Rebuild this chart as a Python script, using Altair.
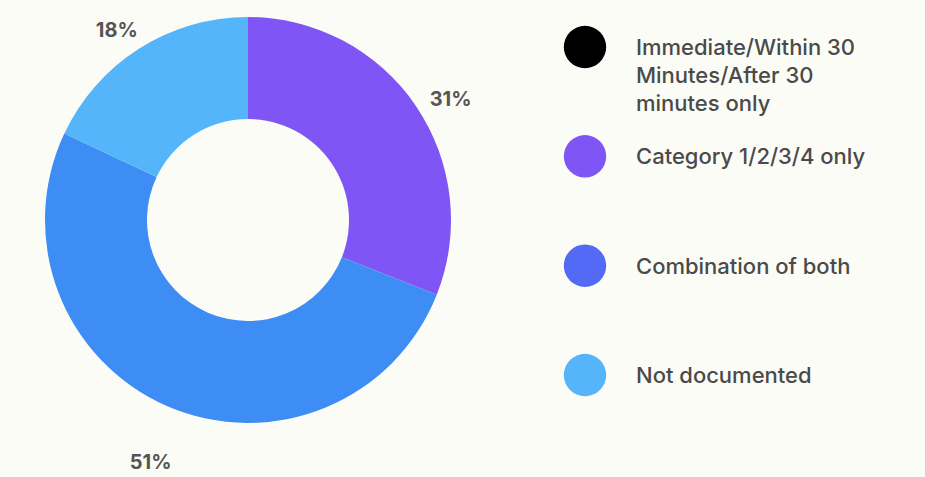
import altair as alt
import pandas as pd

# Donut slices (clockwise from 12 o'clock)
pie_categories = ["Category 1/2/3/4 only", "Combination of both", "Not documented"]
pie_values = [31, 51, 18]
pie_labels = ["31%", "51%", "18%"]
pie_colors = ["#8055f6", "#3e8df5", "#55b5fa"]

# Legend entries
legend_categories = [
    "Immediate/Within 30\nMinutes/After 30\nminutes only",
    "Category 1/2/3/4 only",
    "Combination of both",
    "Not documented",
]
legend_colors = ["#000000", "#7f55f6", "#5469f5", "#56b5fa"]

pie_df = pd.DataFrame({
    "category": pie_categories,
    "value": pie_values,
    "label": pie_labels,
    "idx": list(range(len(pie_categories))),
})
legend_df = pd.DataFrame({
    "category": legend_categories,
    "idx": list(range(len(legend_categories))),
})

BG = "#fcfcf6"
CX, CY = 248, 220

base = alt.Chart(pie_df).encode(
    theta=alt.Theta("value:Q", stack=True),
    order=alt.Order("idx:O"),
)

arcs = base.mark_arc(outerRadius=203, innerRadius=101, x=CX, y=CY).encode(
    color=alt.Color("category:N",
                    scale=alt.Scale(domain=pie_categories, range=pie_colors),
                    legend=None),
)

labels = base.mark_text(radius=245, x=CX, y=CY, dy=18, font="Inter", fontSize=20,
                        fontWeight="bold", color="#555555").encode(
    text="label:N",
)

ypos = alt.Y("idx:O", axis=None,
             scale=alt.Scale(type="point", range=[47, 375], padding=0))

leg_dots = alt.Chart(legend_df).mark_point(
    shape="circle", filled=True, size=1800, opacity=1, x=585
).encode(
    y=ypos,
    color=alt.Color("category:N",
                    scale=alt.Scale(domain=legend_categories, range=legend_colors),
                    legend=None),
)

leg_text = alt.Chart(legend_df).mark_text(
    x=636, align="left", baseline="alphabetic", dy=8, lineBreak="\n",
    lineHeight=28, font="Inter", fontSize=22, fontWeight=500, color="#4a4a4a"
).encode(
    y=ypos,
    text="category:N",
)

chart = alt.layer(arcs, labels, leg_dots, leg_text).resolve_scale(
    color="independent"
).properties(
    width=925, height=477,
    background=BG,
    padding=0,
    autosize=alt.AutoSizeParams(type="fit", contains="padding"),
).configure_view(stroke=None)

chart.save("out.html", embed_options={"renderer": "svg", "actions": False})
